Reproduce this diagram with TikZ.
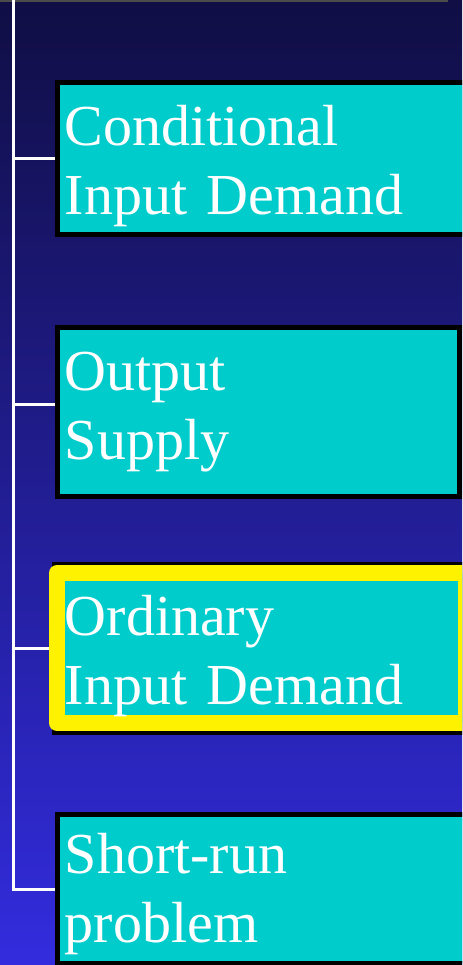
\documentclass[tikz,border=0pt]{standalone}
\usepackage{fontspec}
\setmainfont{Liberation Serif}
\usetikzlibrary{positioning}

\definecolor{slideTop}{RGB}{16,14,68}
\definecolor{slideMid}{RGB}{28,26,134}
\definecolor{slideBot}{RGB}{50,44,222}
\definecolor{boxCyan}{RGB}{0,204,204}

\begin{document}
\begin{tikzpicture}[x=0.5pt,y=-0.5pt,
    treeBox/.style={rectangle,draw=black,fill=boxCyan,line width=2.5pt,outer sep=1.25pt,
        inner sep=0pt,anchor=north west},
    treeHigh/.style={treeBox,draw=yellow,line width=8pt,outer sep=4pt,line join=round},
    treeTxt/.style={text=white,anchor=base west,inner sep=0pt,align=left,text width=190pt,
        font=\fontsize{29}{34.5}\selectfont},
    treeLine/.style={draw=white,line width=1.5pt},
]
\useasboundingbox (0,0) rectangle (462,965);
\clip (0,0) rectangle (462,965);
% slide background
\shade[top color=slideTop,middle color=slideMid,bottom color=slideBot] (0,0) rectangle (462,965);
\draw[black!70,line width=1pt] (0,1) -- (448,1);
% boxes
\node[treeBox,minimum width=215pt,minimum height=76pt] (cond) at (55,80) {};
\node[treeBox,minimum width=201pt,minimum height=84.5pt] (outp) at (55,325) {};
\fill[black] (52,562) rectangle (480,735);
\node[treeHigh,minimum width=204.5pt,minimum height=75pt] (ord) at (49,565) {};
\node[treeBox,minimum width=215pt,minimum height=74.5pt] (srun) at (55,812) {};
% labels
\node[treeTxt] (condtxt) at (64.5,145) {Conditional\\Input Demand};
\node[treeTxt] (outptxt) at (64.5,390) {Output\\Supply};
\node[treeTxt] (ordtxt) at (64.5,635) {Ordinary\\Input Demand};
\node[treeTxt] (sruntxt) at (64.5,873) {Short-run\\problem};
% tree lines
\coordinate (top) at (13.5,0);
\coordinate (outpjoin) at ([yshift=4pt]outp.west);
\draw[treeLine] (top) -- (top|-srun.west) -- (srun.west);
\draw[treeLine] (top|-cond.west) -- (cond.west);
\draw[treeLine] (outpjoin-|top) -- (outpjoin);
\draw[treeLine] (top|-ord.west) -- (ord.west);
\end{tikzpicture}
\end{document}
